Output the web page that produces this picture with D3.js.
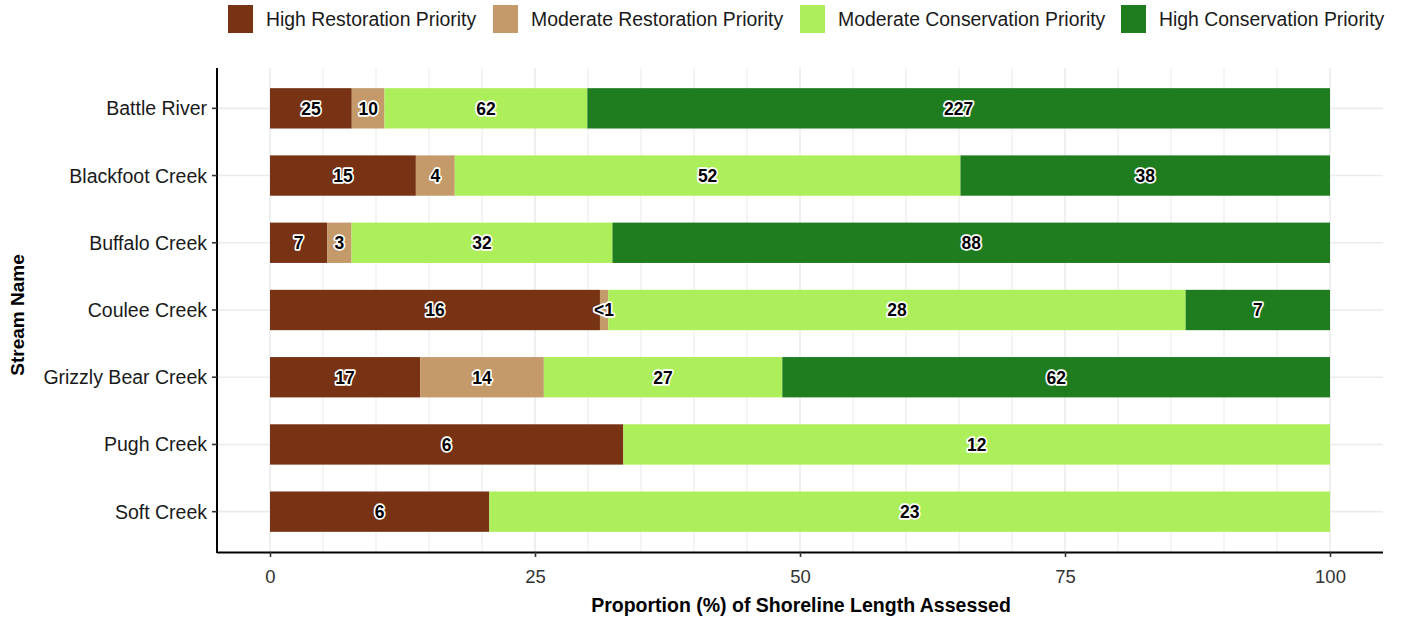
<!DOCTYPE html>
<html>
<head>
<meta charset="utf-8">
<script src="https://cdn.jsdelivr.net/npm/d3@7"></script>
<style>
  html, body { margin: 0; padding: 0; background: #fff; }
  svg { display: block; font-family: "Liberation Sans", Arial, Helvetica, sans-serif; }
</style>
</head>
<body>
<svg id="chart" width="1408" height="622"></svg>
<script>
// Shoreline length (km) by priority class for each stream
const streams = ["Battle River", "Blackfoot Creek", "Buffalo Creek", "Coulee Creek",
                 "Grizzly Bear Creek", "Pugh Creek", "Soft Creek"];
const priorities = ["High Restoration Priority", "Moderate Restoration Priority",
                    "Moderate Conservation Priority", "High Conservation Priority"];
const highRestoration      = [25, 15, 7, 16, 17, 6, 6];
const moderateRestoration  = [10, 4, 3, 0.4, 14, 0, 0];
const moderateConservation = [62, 52, 32, 28, 27, 12, 23];
const highConservation     = [227, 38, 88, 7, 62, 0, 0];
// label text where the rounded value would read as zero
const labelOverrides = { "Coulee Creek|Moderate Restoration Priority": "<1" };
const xTicks = [0, 25, 50, 75, 100];
const colors = ["#773313", "#c49a6a", "#adef5a", "#1f7d1f"];

const series = [highRestoration, moderateRestoration, moderateConservation, highConservation];

const rows = streams.map((s, i) => {
  const vals = series.map(arr => arr[i]);
  const total = d3.sum(vals);
  const row = { stream: s, total };
  priorities.forEach((p, k) => { row[p] = vals[k] / total * 100; row[p + "_raw"] = vals[k]; });
  return row;
});

const svg = d3.select("#chart");
const pLeft = 217, pRight = 1383, pTop = 68, pBottom = 552;

const x = d3.scaleLinear().domain([-5, 105]).range([pLeft, pRight]);
const y = d3.scalePoint().domain(streams).range([pTop, pBottom]).padding(0.6);
const barH = y.step() * 0.6;

// grid
const g = svg.append("g");
const minor = d3.range(0, 101, 5);
g.selectAll("line.vgrid").data(minor).join("line")
  .attr("x1", d => x(d)).attr("x2", d => x(d))
  .attr("y1", pTop).attr("y2", pBottom)
  .attr("stroke", "#ebebeb").attr("stroke-width", d => d % 25 === 0 ? 1.6 : 1.1);
g.selectAll("line.hgrid").data(streams).join("line")
  .attr("x1", pLeft).attr("x2", pRight)
  .attr("y1", d => y(d)).attr("y2", d => y(d))
  .attr("stroke", "#ebebeb").attr("stroke-width", 1.6);

// stacked bars
const stack = d3.stack().keys(priorities)(rows);
const layers = svg.append("g").selectAll("g").data(stack).join("g")
  .attr("fill", (d, i) => colors[i]);
layers.selectAll("rect").data(d => d.filter(p => p[1] - p[0] > 0)).join("rect")
  .attr("x", d => x(d[0]))
  .attr("width", d => x(d[1]) - x(d[0]))
  .attr("y", d => y(d.data.stream) - barH / 2)
  .attr("height", barH);

// value labels with white halo
const labels = [];
stack.forEach(layer => {
  layer.forEach(p => {
    const raw = p.data[layer.key + "_raw"];
    if (raw > 0) {
      const key = p.data.stream + "|" + layer.key;
      labels.push({
        cx: (x(p[0]) + x(p[1])) / 2,
        cy: y(p.data.stream),
        text: labelOverrides[key] || d3.format(".0f")(raw)
      });
    }
  });
});
const lg = svg.append("g").attr("font-size", 17.5).attr("font-weight", "bold")
  .attr("text-anchor", "middle");
lg.selectAll("text.halo").data(labels).join("text").attr("class", "halo")
  .attr("x", d => d.cx).attr("y", d => d.cy).attr("dy", "0.36em")
  .attr("fill", "#fff").attr("stroke", "#fff").attr("stroke-width", 3.4)
  .attr("stroke-linejoin", "round").text(d => d.text);
lg.selectAll("text.val").data(labels).join("text").attr("class", "val")
  .attr("x", d => d.cx).attr("y", d => d.cy).attr("dy", "0.36em")
  .attr("fill", "#000").text(d => d.text);

// axes
const xAxis = svg.append("g").attr("transform", `translate(0,${pBottom})`)
  .call(d3.axisBottom(x).tickValues(xTicks).tickSize(5).tickPadding(13));
xAxis.select(".domain").attr("d", `M${pLeft},0.5H${pRight}`).attr("stroke", "#000").attr("stroke-width", 2);
xAxis.selectAll(".tick line").attr("stroke", "#333").attr("stroke-width", 1.6);
xAxis.selectAll(".tick text").attr("font-size", 18.5).attr("fill", "#333")
  .attr("font-family", "Liberation Sans, Arial, sans-serif");

const yAxis = svg.append("g").attr("transform", `translate(${pLeft},0)`);
yAxis.append("line").attr("x1", 0).attr("x2", 0).attr("y1", pTop).attr("y2", pBottom + 1)
  .attr("stroke", "#000").attr("stroke-width", 2);
yAxis.selectAll("line.tick").data(streams).join("line").attr("class", "tick")
  .attr("x1", -5).attr("x2", 0).attr("y1", d => y(d)).attr("y2", d => y(d))
  .attr("stroke", "#333").attr("stroke-width", 1.6);
yAxis.selectAll("text").data(streams).join("text")
  .attr("x", -10).attr("y", d => y(d)).attr("dy", "0.36em")
  .attr("text-anchor", "end").attr("font-size", 19.5).attr("fill", "#1a1a1a")
  .text(d => d);

// axis titles
svg.append("text").attr("x", (pLeft + pRight) / 2 + 1).attr("y", 612)
  .attr("text-anchor", "middle").attr("font-size", 19.5).attr("font-weight", "bold")
  .attr("fill", "#000").text("Proportion (%) of Shoreline Length Assessed");
svg.append("text").attr("transform", `translate(24,315) rotate(-90)`)
  .attr("text-anchor", "middle").attr("font-size", 19).attr("font-weight", "bold")
  .attr("fill", "#000").text("Stream Name");

// legend
const legendX = [228, 493, 800, 1121];
const leg = svg.append("g");
priorities.forEach((p, i) => {
  leg.append("rect").attr("x", legendX[i]).attr("y", 5).attr("width", 25).attr("height", 28)
    .attr("fill", colors[i]);
  leg.append("text").attr("x", legendX[i] + 38).attr("y", 19).attr("dy", "0.36em")
    .attr("font-size", 19.4).attr("fill", "#1a1a1a").text(p);
});
</script>
</body>
</html>
